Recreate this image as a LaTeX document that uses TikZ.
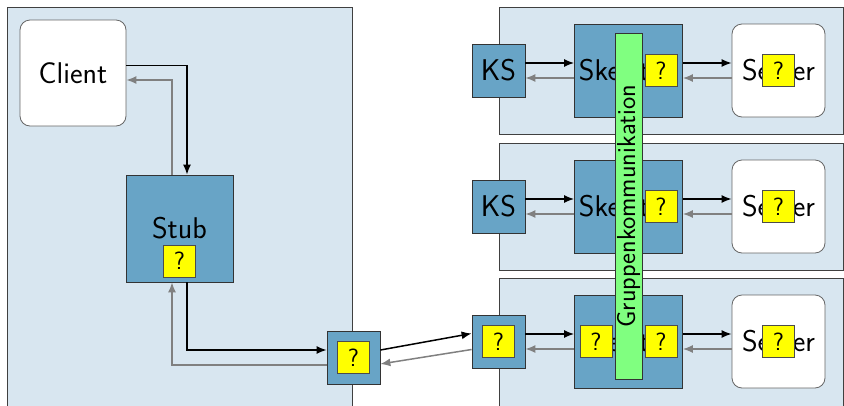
\documentclass[tikz,border=0pt]{standalone}
\usetikzlibrary{arrows.meta}
\definecolor{panelbg}{HTML}{D8E6F0}
\definecolor{boxbg}{HTML}{68A4C6}
\definecolor{qyel}{HTML}{FFFF00}
\definecolor{gbar}{HTML}{80FF80}
\tikzset{
  panel/.style={draw=black!75, fill=panelbg, line width=0.8pt},
  whitebox/.style={draw=black!60, fill=white, rounded corners=10pt, line width=0.8pt, inner sep=0pt, font=\sffamily\fontsize{30}{34}\selectfont},
  bluebox/.style={draw=black!80, fill=boxbg, line width=0.8pt, inner sep=0pt, font=\sffamily\fontsize{30}{34}\selectfont},
  qbox/.style={draw=black!70, fill=qyel, line width=0.8pt, inner sep=0pt, minimum width=32pt, minimum height=32pt, font=\sffamily\fontsize{25}{28}\selectfont},
  blk/.style={draw=black, line width=1.5pt, -{Latex[length=10pt,width=8pt]}},
  gry/.style={draw=black!50, line width=1.5pt, -{Latex[length=10pt,width=8pt]}},
}
\begin{document}
\begin{tikzpicture}[x=1pt,y=-1pt]
\useasboundingbox (0,0) rectangle (844,405);
\clip (0,0) rectangle (844,405);
% panels
\draw[panel] (7,7) rectangle (352,430);
\draw[panel] (499,7) rectangle (843,134);
\draw[panel] (499,143) rectangle (843,270);
\draw[panel] (499,278) rectangle (843,430);
% left side
\node[whitebox, minimum width=106pt, minimum height=106pt] (client) at (73,73) {Client};
\node[bluebox, minimum width=107pt, minimum height=107pt] (stub) at (179.5,228.5) {};
\node[font=\sffamily\fontsize{30}{34}\selectfont] (stubtxt) at (179.5,228) {Stub};
\node[qbox] (stubq) at (179.5,261) {?};
\node[bluebox, minimum width=53pt, minimum height=53pt] (proxy) at (353.5,357.5) {};
\node[qbox] (proxyq) at (353.5,357.5) {?};
% right side rows
\foreach \i/\dy in {1/0,2/136,3/271}{
  \node[bluebox, minimum width=53pt, minimum height=53pt] (ks\i) at (498.5,70.5+\dy) {};
  \node[bluebox, minimum width=108pt, minimum height=93pt] (sk\i) at (628.5,70.5+\dy) {Skeleton};
  \node[whitebox, minimum width=93pt, minimum height=93pt] (srv\i) at (778.5,70.5+\dy) {Server};
  \node[qbox] (skq\i) at (661,70.5+\dy) {?};
  \node[qbox] (srvq\i) at (778.5,70.5+\dy) {?};
}
\node[font=\sffamily\fontsize{30}{34}\selectfont] (kstxt1) at (ks1) {KS};
\node[font=\sffamily\fontsize{30}{34}\selectfont] (kstxt2) at (ks2) {KS};
\node[qbox] (ksq3) at (ks3) {?};
\node[qbox] (skql3) at (596,341.5) {?};
% group communication bar
\node[draw=black!80, fill=gbar, line width=0.8pt, inner sep=0pt, minimum width=346pt, minimum height=27pt, rotate=90, font=\sffamily\fontsize{26}{30}\selectfont] (grp) at (628.5,206) {Gruppenkommunikation};
% connectors left
\draw[blk] ([yshift=7.5pt]client.east) -| ([xshift=7.5pt]stub.north);
\draw[gry] ([xshift=-7.5pt]stub.north) |- ([yshift=-7pt]client.east);
\draw[blk] ([xshift=7.5pt]stub.south) |- ([yshift=7.5pt]proxy.west);
\draw[gry] ([yshift=-7.5pt]proxy.west) -| ([xshift=-7.5pt]stub.south);
\draw[blk] ([yshift=7.5pt]proxy.east) -- ([yshift=8pt]ks3.west);
\draw[gry] ([yshift=-8pt]ks3.west) -- ([yshift=-6.5pt]proxy.east);
% connectors right
\foreach \i in {1,2,3}{
  \draw[blk] ([yshift=7.5pt]ks\i.east) -- ([yshift=7.5pt]sk\i.west);
  \draw[gry] ([yshift=-7.5pt]sk\i.west) -- ([yshift=-7.5pt]ks\i.east);
  \draw[blk] ([yshift=7.5pt]sk\i.east) -- ([yshift=7.5pt]srv\i.west);
  \draw[gry] ([yshift=-7.5pt]srv\i.west) -- ([yshift=-7.5pt]sk\i.east);
}
\end{tikzpicture}
\end{document}
